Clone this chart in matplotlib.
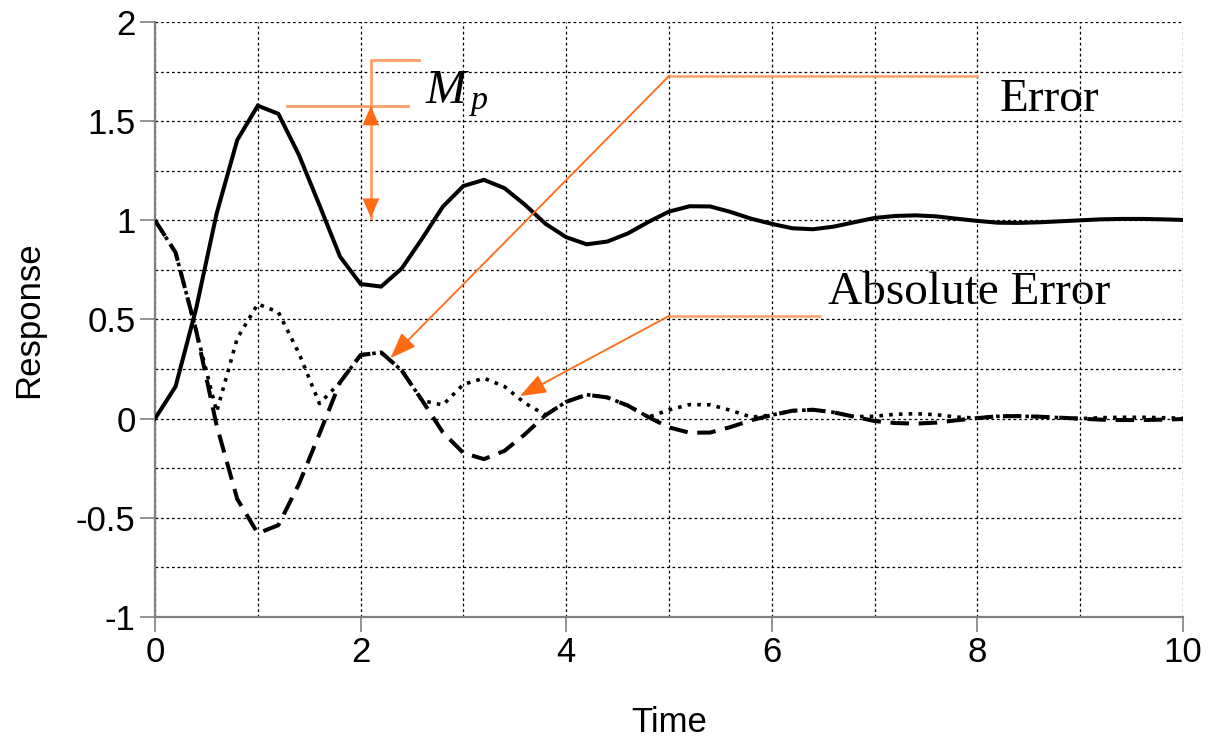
import numpy as np
import matplotlib
matplotlib.use("Agg")
import matplotlib.pyplot as plt
from matplotlib.ticker import MultipleLocator

time = [0.0, 0.2, 0.4, 0.6, 0.8, 1.0, 1.2, 1.4, 1.6, 1.8,
        2.0, 2.2, 2.4, 2.6, 2.8, 3.0, 3.2, 3.4, 3.6, 3.8,
        4.0, 4.2, 4.4, 4.6, 4.8, 5.0, 5.2, 5.4, 5.6, 5.8,
        6.0, 6.2, 6.4, 6.6, 6.8, 7.0, 7.2, 7.4, 7.6, 7.8,
        8.0, 8.2, 8.4, 8.6, 8.8, 9.0, 9.2, 9.4, 9.6, 9.8, 10.0]

response = [0.000, 0.162, 0.555, 1.035, 1.405, 1.578, 1.537, 1.330, 1.076, 0.817,
            0.679, 0.666, 0.757, 0.909, 1.069, 1.173, 1.204, 1.162, 1.078, 0.982,
            0.915, 0.879, 0.893, 0.934, 0.992, 1.044, 1.071, 1.070, 1.042, 1.008,
            0.982, 0.960, 0.955, 0.968, 0.990, 1.012, 1.022, 1.025, 1.020, 1.008,
            0.997, 0.988, 0.987, 0.990, 0.995, 1.000, 1.005, 1.007, 1.007, 1.005, 1.002]

error = [1.000, 0.838, 0.445, -0.035, -0.405, -0.578, -0.537, -0.330, -0.076, 0.183,
         0.321, 0.334, 0.243, 0.091, -0.069, -0.173, -0.204, -0.162, -0.078, 0.018,
         0.085, 0.121, 0.107, 0.066, 0.008, -0.044, -0.071, -0.070, -0.042, -0.008,
         0.018, 0.040, 0.045, 0.032, 0.010, -0.012, -0.022, -0.025, -0.020, -0.008,
         0.003, 0.012, 0.013, 0.010, 0.005, 0.000, -0.005, -0.007, -0.007, -0.005, -0.002]

abs_error = [1.000, 0.838, 0.445, 0.035, 0.405, 0.578, 0.537, 0.330, 0.076, 0.183,
             0.321, 0.334, 0.243, 0.091, 0.069, 0.173, 0.204, 0.162, 0.078, 0.018,
             0.085, 0.121, 0.107, 0.066, 0.008, 0.044, 0.071, 0.070, 0.042, 0.008,
             0.018, 0.040, 0.045, 0.032, 0.010, 0.012, 0.022, 0.025, 0.020, 0.008,
             0.003, 0.012, 0.013, 0.010, 0.005, 0.000, 0.005, 0.007, 0.007, 0.005, 0.002]

x_ticks = [0, 2, 4, 6, 8, 10]
x_labels = ["0", "2", "4", "6", "8", "10"]
y_ticks = [-1, -0.5, 0, 0.5, 1, 1.5, 2]
y_labels = ["-1", "-0.5", "0", "0.5", "1", "1.5", "2"]

ORANGE = "#FF6A13"
LIGHT = "#FFA066"

plt.rcParams["font.family"] = ["Liberation Sans", "DejaVu Sans"]
plt.rcParams["mathtext.fontset"] = "custom"
plt.rcParams["mathtext.it"] = "Liberation Serif:italic"
plt.rcParams["mathtext.rm"] = "Liberation Serif"

fig = plt.figure(figsize=(12.09, 7.40), dpi=100)
ax = fig.add_axes([0.1282, 0.1662, 0.8503, 0.8041])

# grid
ax.xaxis.set_minor_locator(MultipleLocator(1))
ax.yaxis.set_minor_locator(MultipleLocator(0.25))
ax.grid(which="both", color="black", ls=(0, (2.2, 2.2)), lw=0.9)
ax.set_axisbelow(True)

# absolute error (dotted), below the rest
ax.plot(time, abs_error, color="black", lw=2.6, ls=(0, (1, 1.7)),
        dash_capstyle="butt", zorder=3)
# error (dashed)
ax.plot(time, error, color="black", lw=2.9, ls=(0, (4.6, 2.4)),
        dash_capstyle="butt", solid_joinstyle="miter", zorder=4)
# response (solid)
ax.plot(time, response, color="black", lw=2.9, solid_joinstyle="miter", zorder=5)

# ---- annotations -------------------------------------------------------
# Mp: level line, bracket and double arrow
ax.plot([1.28, 2.46], [1.577, 1.577], color=LIGHT, lw=2, zorder=6)
ax.plot([2.10, 2.10, 2.57], [1.577, 1.809, 1.809], color=LIGHT, lw=2, zorder=6)
ax.plot([2.10, 2.10], [1.577, 1.012], color=LIGHT, lw=2, zorder=6)
ax.annotate("", xy=(2.10, 1.012), xytext=(2.10, 1.577),
            arrowprops=dict(arrowstyle="<|-|>,head_length=0.7,head_width=0.3",
                            color=ORANGE, lw=0.01, mutation_scale=20,
                            shrinkA=0, shrinkB=0), zorder=7)
ax.text(2.63, 1.59, r"$M_{\,p}$", fontsize=35, ha="left", va="baseline", zorder=7)

# Error leader
ax.plot([8.0, 5.0], [1.728, 1.728], color=LIGHT, lw=1.8, zorder=6)
ax.annotate("", xy=(2.29, 0.305), xytext=(5.0, 1.728),
            arrowprops=dict(arrowstyle="-|>,head_length=0.8,head_width=0.3",
                            color=ORANGE, lw=1.3, mutation_scale=20,
                            shrinkA=0, shrinkB=0), zorder=7)
ax.text(8.22, 1.607, "Error", fontsize=34, family="Liberation Serif",
        ha="left", va="center", zorder=7)

# Absolute Error leader
ax.plot([6.47, 5.0], [0.518, 0.518], color=LIGHT, lw=1.8, zorder=6)
ax.annotate("", xy=(3.55, 0.114), xytext=(5.0, 0.518),
            arrowprops=dict(arrowstyle="-|>,head_length=0.8,head_width=0.3",
                            color=ORANGE, lw=1.3, mutation_scale=20,
                            shrinkA=0, shrinkB=0), zorder=7)
ax.text(6.55, 0.633, "Absolute Error", fontsize=34, family="Liberation Serif",
        ha="left", va="center", zorder=7)

# ---- axes --------------------------------------------------------------
ax.set_xlim(0, 10)
ax.set_ylim(-1, 2)
ax.set_xticks(x_ticks)
ax.set_xticklabels(x_labels)
ax.set_yticks(y_ticks)
ax.set_yticklabels(y_labels)
ax.tick_params(which="major", direction="out", length=11, width=1.2,
               color="#808080", labelsize=25, pad=3)
ax.tick_params(which="minor", length=0)
for side in ("top", "right"):
    ax.spines[side].set_visible(False)
for side in ("left", "bottom"):
    ax.spines[side].set_color("#808080")
    ax.spines[side].set_linewidth(1.6)

ax.set_xlabel("Time", fontsize=25, labelpad=26)
ax.set_ylabel("Response", fontsize=25, labelpad=22)

fig.savefig("out.png", dpi=100)
